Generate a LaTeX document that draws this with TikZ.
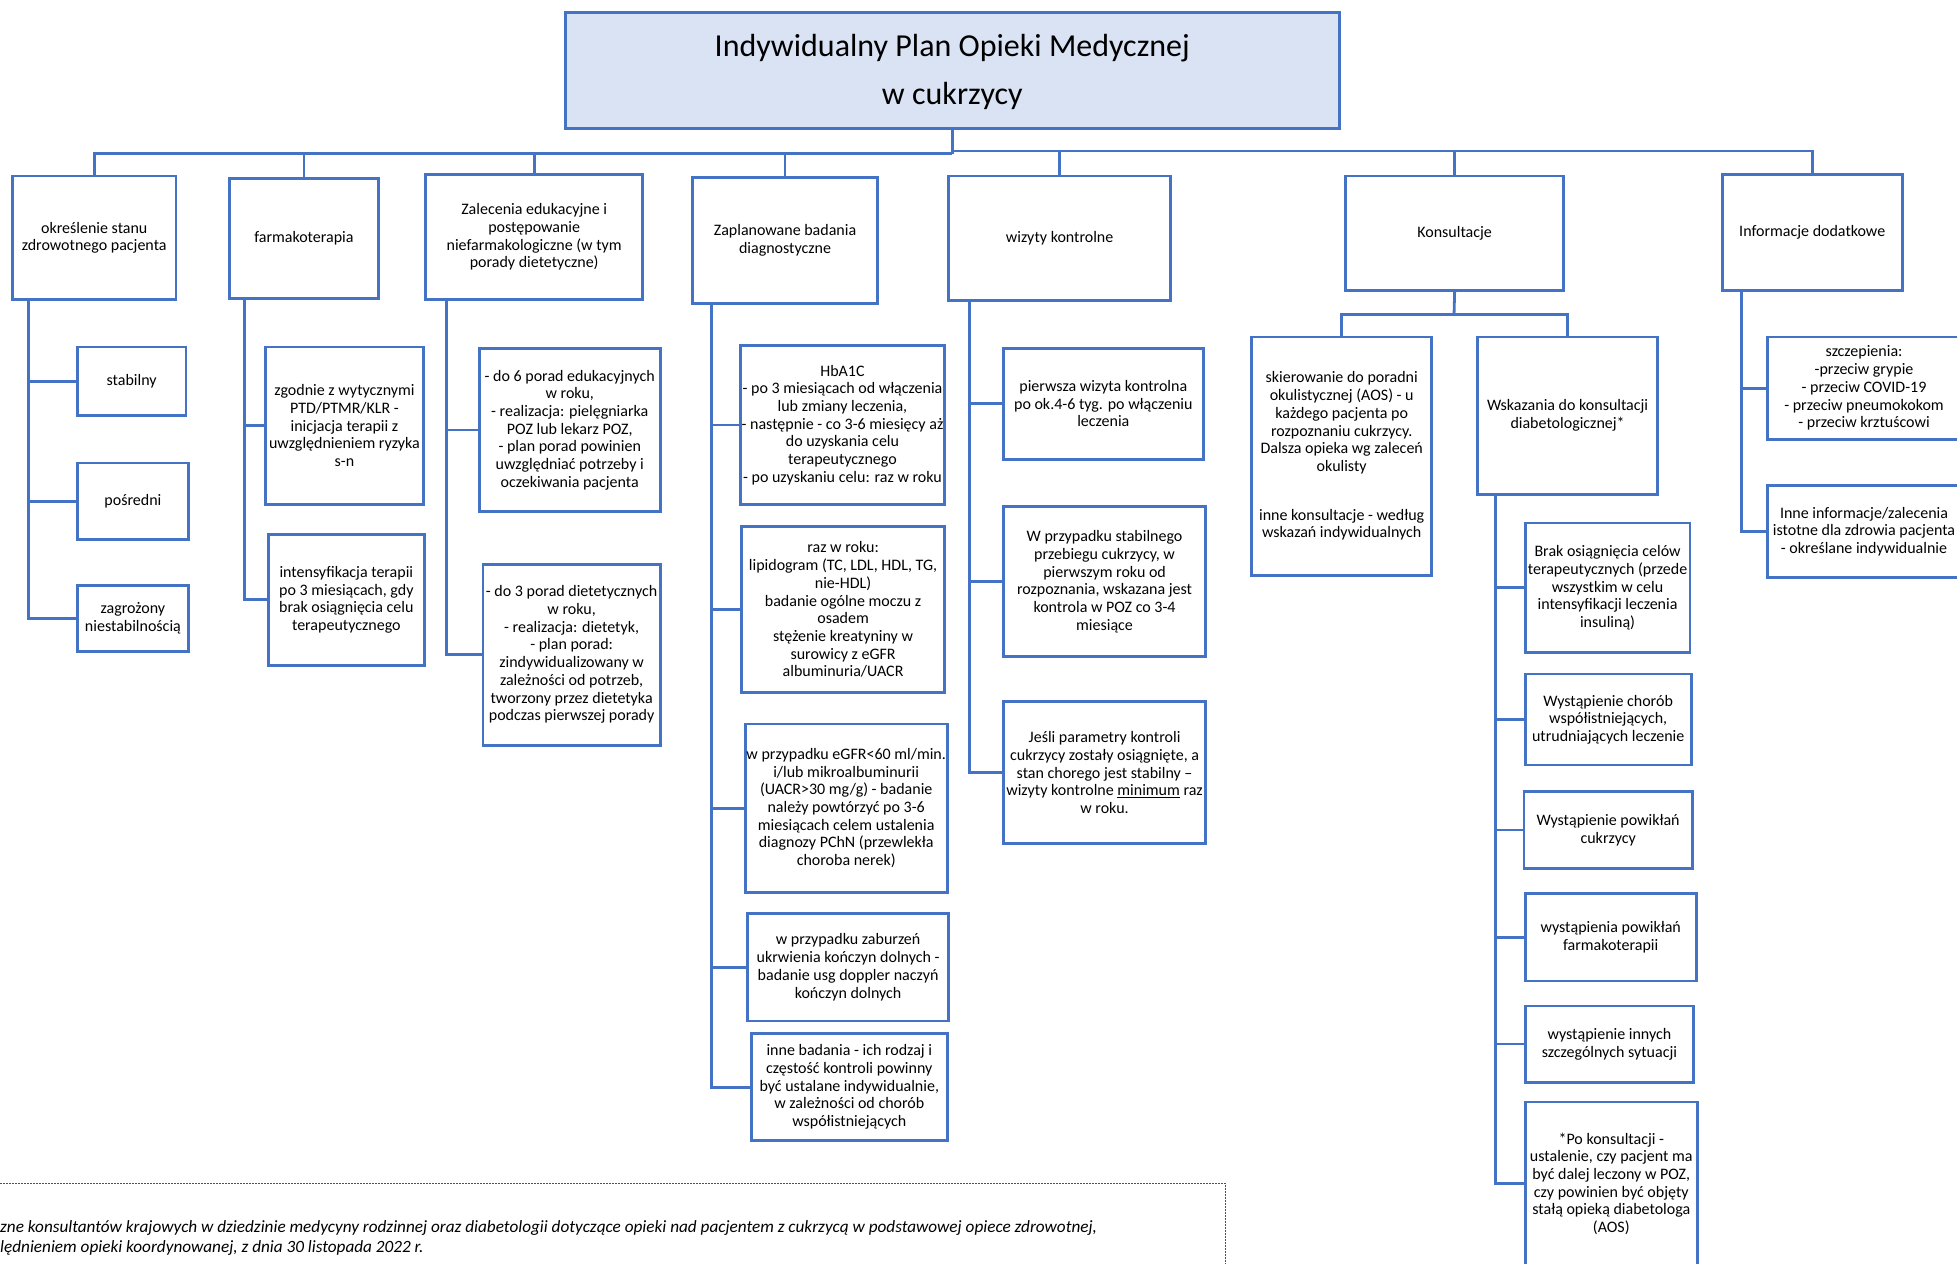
\documentclass[tikz,border=0pt]{standalone}
\usepackage{fontspec}
\setmainfont{Carlito}
\usetikzlibrary{calc,fit}
\definecolor{planblue}{HTML}{4472C4}
\definecolor{titlefill}{HTML}{DAE3F3}
\definecolor{noteblue}{HTML}{2F5597}
\tikzset{
  box/.style={draw=planblue, line width=2.8pt, inner sep=0pt, outer sep=0pt},
  titlebox/.style={box, fill=titlefill},
  txt/.style={align=center, inner sep=0pt, font=\fontsize{16}{17.7}\selectfont},
  titletxt/.style={align=center, inner sep=0pt, font=\fontsize{32}{47.4}\selectfont},
  conn/.style={draw=planblue, line width=2.8pt},
  notebox/.style={draw=noteblue, line width=1pt, dash pattern=on 1.5pt off 1.5pt, inner sep=0pt},
  notetxt/.style={anchor=west, inner sep=0pt, font=\fontsize{17.2}{20}\selectfont\itshape}
}
\def\planbox(#1)(#2)(#3)#4{\node[box, fit={(#2) (#3)}] (#1) {};
  \node[txt] (#1-t) at (#1.center) {#4};}

\begin{document}
\begin{tikzpicture}[x=1.248pt, y=-1.248pt]
	%%%%% START %%%%%
	\useasboundingbox (0,0) rectangle (1568,1012);

	\node[titlebox, fit={(453,10) (1073,103)}] (title) {};
	\node[titletxt] (title-t) at ($(title.center)+(0,1)$) {Indywidualny Plan Opieki Medycznej\\w cukrzycy};

	% first row
	\planbox(okr)(10,141)(141,240){określenie stanu\\zdrowotnego pacjenta}
	\planbox(farm)(184,143)(303,239){farmakoterapia}
	\planbox(zal)(341,140)(515,240){Zalecenia edukacyjne i\\postępowanie\\niefarmakologiczne (w tym\\porady dietetyczne)}
	\planbox(zap)(555,142)(703,243){Zaplanowane badania\\diagnostyczne}
	\planbox(wiz)(760,141)(938,241){wizyty kontrolne}
	\planbox(kons)(1078,141)(1253,233){Konsultacje}
	\planbox(info)(1380,140)(1524,233){Informacje dodatkowe}

	\coordinate (hubL) at (763,123);
	\coordinate (hubR) at (763,121);
	\draw[conn] (title.south) -- (hubL);
	\draw[conn, line width=3.4pt] (okr.north) |- (hubL);
	\draw[conn] (farm.north) |- (hubL);
	\draw[conn] (zal.north) |- (hubL);
	\draw[conn] (zap.north) |- (hubL);
	\draw[conn] (wiz.north) |- (hubR);
	\draw[conn] (kons.north) |- (hubR);
	\draw[conn] (info.north) |- (hubR);

	% stan pacjenta
	\planbox(stab)(62,278)(149,333){stabilny}
	\planbox(posr)(62,371)(151,432){pośredni}
	\planbox(zagr)(62,469)(151,522){zagrożony\\niestabilnością}
	\draw[conn] ($(okr.south west)+(13,0)$) |- (stab.west);
	\draw[conn] ($(okr.south west)+(13,0)$) |- (posr.west);
	\draw[conn] ($(okr.south west)+(13,0)$) |- (zagr.west);

	% farmakoterapia
	\planbox(zgod)(213,278)(339,404){zgodnie z wytycznymi\\PTD/PTMR/KLR -\\inicjacja terapii z\\uwzględnieniem ryzyka\\s-n}
	\planbox(inte)(215,428)(340,533){intensyfikacja terapii\\po 3 miesiącach, gdy\\brak osiągnięcia celu\\terapeutycznego}
	\draw[conn] ($(farm.south west)+(12,0)$) |- (zgod.west);
	\draw[conn] ($(farm.south west)+(12,0)$) |- (inte.west);

	% zalecenia
	\planbox(edu)(384,279)(529,410){- do 6 porad edukacyjnych\\w roku,\\- realizacja: pielęgniarka\\POZ lub lekarz POZ,\\- plan porad powinien\\uwzględniać potrzeby i\\oczekiwania pacjenta}
	\planbox(diet)(387,452)(529,597){- do 3 porad dietetycznych\\w roku,\\- realizacja: dietetyk,\\- plan porad:\\zindywidualizowany w\\zależności od potrzeb,\\tworzony przez dietetyka\\podczas pierwszej porady}
	\draw[conn] ($(zal.south west)+(17,0)$) |- (edu.west);
	\draw[conn] ($(zal.south west)+(17,0)$) |- (diet.west);

	% badania
	\planbox(hba)(593,277)(757,404){HbA1C\\- po 3 miesiącach od włączenia\\lub zmiany leczenia,\\- następnie - co 3-6 miesięcy aż\\do uzyskania celu\\terapeutycznego\\- po uzyskaniu celu: raz w roku}
	\planbox(lip)(594,422)(757,555){raz w roku:\\lipidogram (TC, LDL, HDL, TG,\\nie-HDL)\\badanie ogólne moczu z\\osadem\\stężenie kreatyniny w\\surowicy z eGFR\\albuminuria/UACR}
	\planbox(egfr)(597,580)(759,715){w przypadku eGFR<60 ml/min.\\i/lub mikroalbuminurii\\(UACR>30 mg/g) - badanie\\należy powtórzyć po 3-6\\miesiącach celem ustalenia\\diagnozy PChN (przewlekła\\choroba nerek)}
	\planbox(usg)(599,732)(760,818){w przypadku zaburzeń\\ukrwienia kończyn dolnych -\\badanie usg doppler naczyń\\kończyn dolnych}
	\planbox(inneb)(602,828)(759,914){inne badania - ich rodzaj i\\częstość kontroli powinny\\być ustalane indywidualnie,\\w zależności od chorób\\współistniejących}
	\draw[conn] ($(zap.south west)+(15,0)$) |- (hba.west);
	\draw[conn] ($(zap.south west)+(15,0)$) |- (lip.west);
	\draw[conn] ($(zap.south west)+(15,0)$) |- (egfr.west);
	\draw[conn] ($(zap.south west)+(15,0)$) |- (usg.west);
	\draw[conn] ($(zap.south west)+(15,0)$) |- (inneb.west);

	% wizyty
	\planbox(pierw)(804,279)(964,368){pierwsza wizyta kontrolna\\po ok.4-6 tyg. po włączeniu\\leczenia}
	\planbox(stabk)(804,406)(966,526){W przypadku stabilnego\\przebiegu cukrzycy, w\\pierwszym roku od\\rozpoznania, wskazana jest\\kontrola w POZ co 3-4\\miesiące}
	\planbox(jesli)(804,562)(966,676){Jeśli parametry kontroli\\cukrzycy zostały osiągnięte, a\\stan chorego jest stabilny –\\wizyty kontrolne \underline{minimum} raz\\w roku.}
	\draw[conn] ($(wiz.south west)+(17,0)$) |- (pierw.west);
	\draw[conn] ($(wiz.south west)+(17,0)$) |- (stabk.west);
	\draw[conn] ($(wiz.south west)+(17,0)$) |- (jesli.west);

	% konsultacje
	\planbox(skier)(1003,270)(1147,461){skierowanie do poradni\\okulistycznej (AOS) - u\\każdego pacjenta po\\rozpoznaniu cukrzycy.\\Dalsza opieka wg zaleceń\\okulisty\\[31pt]inne konsultacje - według\\wskazań indywidualnych}
	\planbox(wsk)(1184,270)(1328,396){Wskazania do konsultacji\\diabetologicznej*}
	\coordinate (kbus) at (1165,252);
	\draw[conn] (kons.south) -- (kbus);
	\draw[conn] (skier.north) |- (kbus);
	\draw[conn] (wsk.north) |- (kbus);

	\planbox(brak)(1222,419)(1354,523){Brak osiągnięcia celów\\terapeutycznych (przede\\wszystkim w celu\\intensyfikacji leczenia\\insuliną)}
	\planbox(chor)(1222,540)(1355,613){Wystąpienie chorób\\współistniejących,\\utrudniających leczenie}
	\planbox(powc)(1221,634)(1356,696){Wystąpienie powikłań\\cukrzycy}
	\planbox(powf)(1222,716)(1359,786){wystąpienia powikłań\\farmakoterapii}
	\planbox(sytu)(1222,806)(1357,867){wystąpienie innych\\szczególnych sytuacji}
	\planbox(pokons)(1222,883)(1360,1014){*Po konsultacji -\\ustalenie, czy pacjent ma\\być dalej leczony w POZ,\\czy powinien być objęty\\stałą opieką diabetologa\\(AOS)}
	\draw[conn] ($(wsk.south west)+(14,0)$) |- (brak.west);
	\draw[conn] ($(wsk.south west)+(14,0)$) |- (chor.west);
	\draw[conn] ($(wsk.south west)+(14,0)$) |- (powc.west);
	\draw[conn] ($(wsk.south west)+(14,0)$) |- (powf.west);
	\draw[conn] ($(wsk.south west)+(14,0)$) |- (sytu.west);
	\draw[conn] ($(wsk.south west)+(14,0)$) |- (pokons.west);

	% informacje
	\planbox(szcz)(1416,270)(1571,352){szczepienia:\\-przeciw grypie\\- przeciw COVID-19\\- przeciw pneumokokom\\- przeciw krztuścowi}
	\planbox(inneinf)(1416,389)(1571,463){Inne informacje/zalecenia\\istotne dla zdrowia pacjenta\\- określane indywidualnie}
	\draw[conn] ($(info.south west)+(15,0)$) |- (szcz.west);
	\draw[conn] ($(info.south west)+(15,0)$) |- (inneinf.west);

	% przypis
	\node[notebox, fit={(-20,948) (982,1040)}] (note) {};
	\node[notetxt] (note1) at (0,984) {zne konsultantów krajowych w dziedzinie medycyny rodzinnej oraz diabetologii dotyczące opieki nad pacjentem z cukrzycą w podstawowej opiece zdrowotnej,};
	\node[notetxt] (note2) at (0,1000) {lędnieniem opieki koordynowanej, z dnia 30 listopada 2022 r.};

	%%%%% END %%%%%
\end{tikzpicture}
\end{document}
